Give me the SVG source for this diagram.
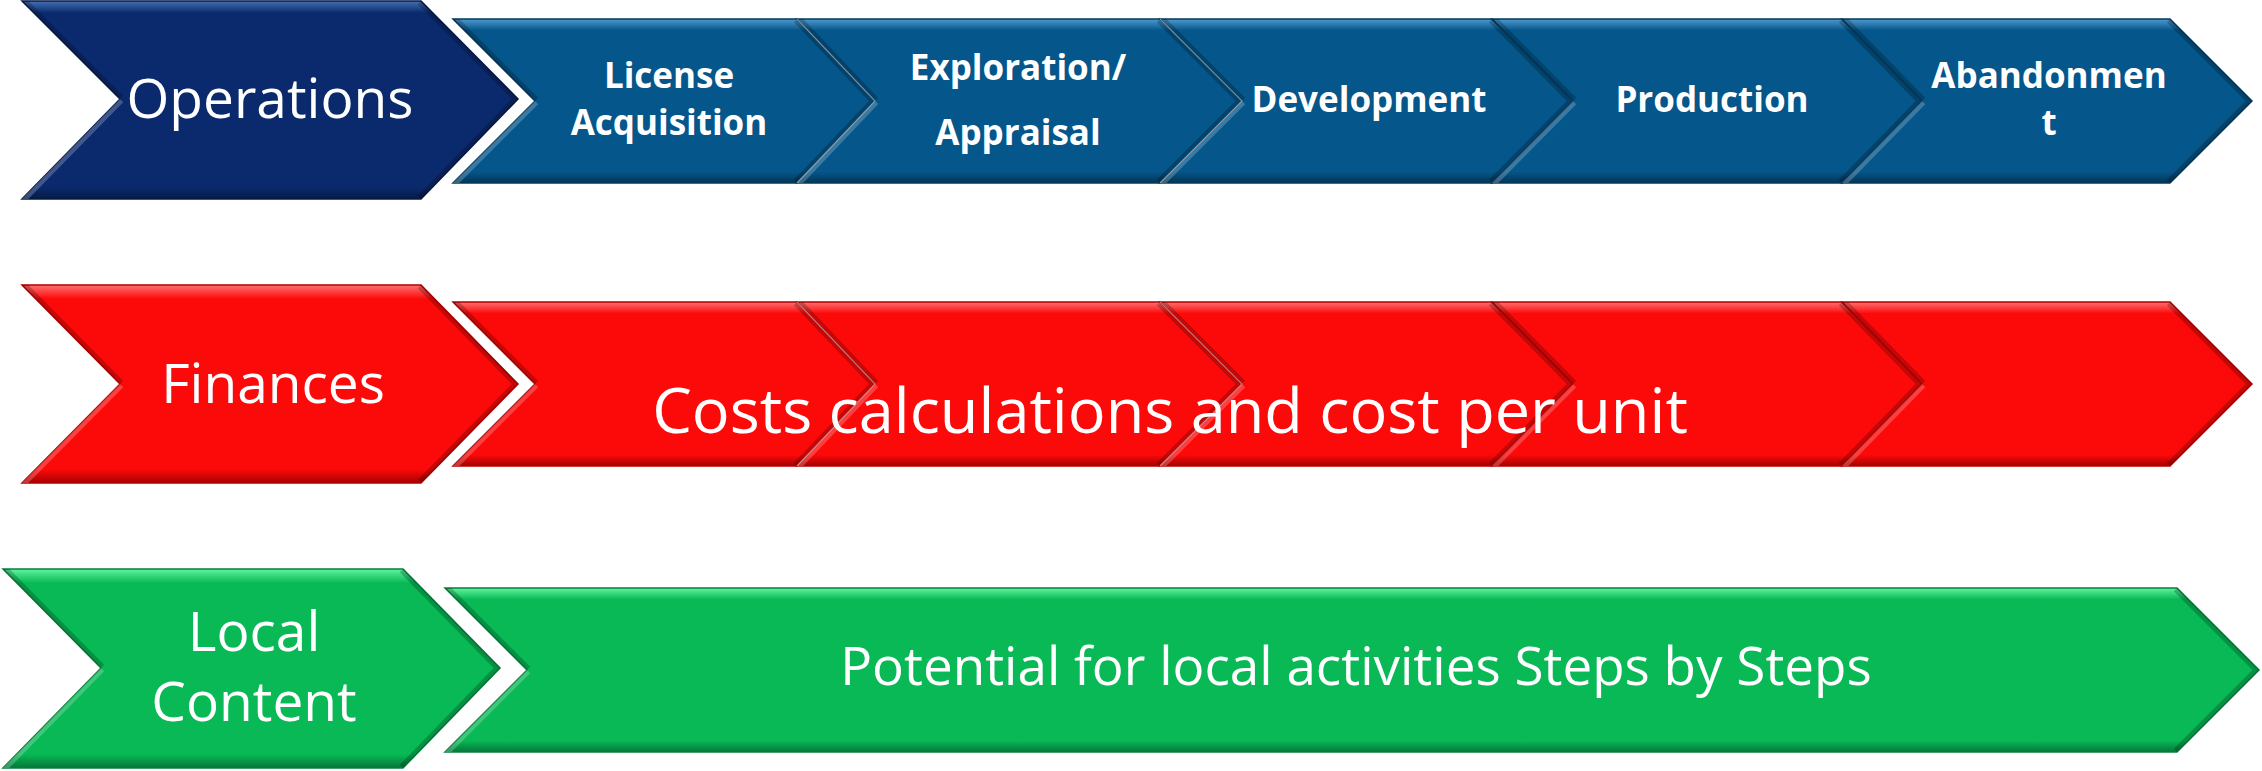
<svg xmlns="http://www.w3.org/2000/svg" xmlns:xlink="http://www.w3.org/1999/xlink" width="2262" height="771" viewBox="0 0 2262 771">
<style>
.lbl{fill:#ffffff;font-family:"Open Sans","Noto Sans","Liberation Sans",sans-serif;text-anchor:middle}
.big{font-size:55px}
.step{font-size:35px;font-weight:700}
.mid{font-size:63px}
.pot{font-size:53px}
.navy{fill:url(#g-navy);stroke:#061a48;stroke-width:1.5}
.blue{fill:url(#g-blue);stroke:#033a5e;stroke-width:1.5}
.red{fill:url(#g-red);stroke:#b40000;stroke-width:1.5}
.green{fill:url(#g-green);stroke:#06803d;stroke-width:1.5}
.hi{fill:none;stroke:#ffffff;stroke-opacity:0.22;stroke-width:9}
.sh{fill:none;stroke:#000000;stroke-opacity:0.22;stroke-width:9}
.edge{fill:none;stroke:#ffffff;stroke-opacity:0.45;stroke-width:1.2}
</style>
<defs>
<linearGradient id="g-navy" x1="0" y1="0" x2="0" y2="1">
<stop offset="0" stop-color="#4670b5"/><stop offset="0.06" stop-color="#0b2a6d"/><stop offset="0.94" stop-color="#0b2a6d"/><stop offset="1" stop-color="#051a46"/>
</linearGradient>
<linearGradient id="g-blue" x1="0" y1="0" x2="0" y2="1">
<stop offset="0" stop-color="#4f9ad0"/><stop offset="0.07" stop-color="#05568a"/><stop offset="0.93" stop-color="#05568a"/><stop offset="1" stop-color="#023555"/>
</linearGradient>
<linearGradient id="g-red" x1="0" y1="0" x2="0" y2="1">
<stop offset="0" stop-color="#ff7070"/><stop offset="0.07" stop-color="#fc0a0a"/><stop offset="0.93" stop-color="#fc0a0a"/><stop offset="1" stop-color="#a80000"/>
</linearGradient>
<linearGradient id="g-green" x1="0" y1="0" x2="0" y2="1">
<stop offset="0" stop-color="#5ff5a0"/><stop offset="0.07" stop-color="#08b955"/><stop offset="0.93" stop-color="#08b955"/><stop offset="1" stop-color="#05773a"/>
</linearGradient>

<polygon id="p-ops" points="22,1 421,1 518,99 421,199 22,199 120,99"/>
<polygon id="p-b1" points="453,19 797,19 875,101 797,183 453,183 535,101"/>
<polygon id="p-b2" points="797,19 1160,19 1242,101 1160,183 797,183 875,101"/>
<polygon id="p-b3" points="1160,19 1492,19 1573,101 1492,183 1160,183 1242,101"/>
<polygon id="p-b4" points="1492,19 1842,19 1922,101 1842,183 1492,183 1573,101"/>
<polygon id="p-b5" points="1842,19 2170,19 2252,101 2170,183 1842,183 1922,101"/>

<polygon id="p-fin" points="22,285 421,285 518,384 421,483 22,483 120,384"/>
<polygon id="p-r1" points="453,302 797,302 875,384 797,466 453,466 535,384"/>
<polygon id="p-r2" points="797,302 1160,302 1242,384 1160,466 797,466 875,384"/>
<polygon id="p-r3" points="1160,302 1492,302 1573,384 1492,466 1160,466 1242,384"/>
<polygon id="p-r4" points="1492,302 1842,302 1922,384 1842,466 1492,466 1573,384"/>
<polygon id="p-r5" points="1842,302 2170,302 2252,384 2170,466 1842,466 1922,384"/>

<polygon id="p-loc" points="3,569 403,569 500,668 403,768 3,768 101,668"/>
<polygon id="p-g1" points="445,588 2177,588 2259,670 2177,752 445,752 527,670"/>

<clipPath id="c-ops"><use xlink:href="#p-ops"/></clipPath>
<clipPath id="c-b1"><use xlink:href="#p-b1"/></clipPath>
<clipPath id="c-b2"><use xlink:href="#p-b2"/></clipPath>
<clipPath id="c-b3"><use xlink:href="#p-b3"/></clipPath>
<clipPath id="c-b4"><use xlink:href="#p-b4"/></clipPath>
<clipPath id="c-b5"><use xlink:href="#p-b5"/></clipPath>
<clipPath id="c-fin"><use xlink:href="#p-fin"/></clipPath>
<clipPath id="c-r1"><use xlink:href="#p-r1"/></clipPath>
<clipPath id="c-r2"><use xlink:href="#p-r2"/></clipPath>
<clipPath id="c-r3"><use xlink:href="#p-r3"/></clipPath>
<clipPath id="c-r4"><use xlink:href="#p-r4"/></clipPath>
<clipPath id="c-r5"><use xlink:href="#p-r5"/></clipPath>
<clipPath id="c-loc"><use xlink:href="#p-loc"/></clipPath>
<clipPath id="c-g1"><use xlink:href="#p-g1"/></clipPath>
</defs>

<rect x="0" y="0" width="2262" height="771" fill="#ffffff"/>

<!-- Row 1: Operations -->
<g id="node-operations">
<use xlink:href="#p-ops" class="navy"/>
<g clip-path="url(#c-ops)">
<polyline class="sh" points="22,1 120,99"/><polyline class="hi" points="120,99 22,199"/>
<polyline class="sh" points="421,1 518,99 421,199"/>
</g>
<text class="lbl big" x="270" y="118">Operations</text>
</g>

<g id="node-license">
<use xlink:href="#p-b1" class="blue"/>
<g clip-path="url(#c-b1)">
<polyline class="sh" points="453,19 535,101"/><polyline class="hi" points="535,101 453,183"/>
<polyline class="sh" points="797,19 875,101 797,183"/>
</g>
<text class="lbl step" x="669" y="88">License</text>
<text class="lbl step" x="669" y="135">Acquisition</text>
</g>

<g id="node-exploration">
<use xlink:href="#p-b2" class="blue"/>
<g clip-path="url(#c-b2)">
<polyline class="sh" points="797,19 875,101"/><polyline class="hi" points="875,101 797,183"/>
<polyline class="sh" points="1160,19 1242,101 1160,183"/>
</g>
<polyline class="edge" points="797,19 875,101 797,183"/>
<text class="lbl step" x="1018" y="80">Exploration/</text>
<text class="lbl step" x="1018" y="145">Appraisal</text>
</g>

<g id="node-development">
<use xlink:href="#p-b3" class="blue"/>
<g clip-path="url(#c-b3)">
<polyline class="sh" points="1160,19 1242,101"/><polyline class="hi" points="1242,101 1160,183"/>
<polyline class="sh" points="1492,19 1573,101 1492,183"/>
</g>
<polyline class="edge" points="1160,19 1242,101 1160,183"/>
<text class="lbl step" x="1369" y="112">Development</text>
</g>

<g id="node-production">
<use xlink:href="#p-b4" class="blue"/>
<g clip-path="url(#c-b4)">
<polyline class="sh" points="1492,19 1573,101"/><polyline class="hi" points="1573,101 1492,183"/>
<polyline class="sh" points="1842,19 1922,101 1842,183"/>
</g>
<text class="lbl step" x="1712" y="112">Production</text>
</g>

<g id="node-abandonment">
<use xlink:href="#p-b5" class="blue"/>
<g clip-path="url(#c-b5)">
<polyline class="sh" points="1842,19 1922,101"/><polyline class="hi" points="1922,101 1842,183"/>
<polyline class="sh" points="2170,19 2252,101 2170,183"/>
</g>
<text class="lbl step" x="2049" y="88">Abandonmen</text>
<text class="lbl step" x="2049" y="135">t</text>
</g>

<!-- Row 2: Finances -->
<g id="node-finances">
<use xlink:href="#p-fin" class="red"/>
<g clip-path="url(#c-fin)">
<polyline class="sh" points="22,285 120,384"/><polyline class="hi" points="120,384 22,483"/>
<polyline class="sh" points="421,285 518,384 421,483"/>
</g>
<text class="lbl big" x="273" y="403">Finances</text>
</g>

<g id="node-costs">
<use xlink:href="#p-r1" class="red"/>
<g clip-path="url(#c-r1)">
<polyline class="sh" points="453,302 535,384"/><polyline class="hi" points="535,384 453,466"/>
<polyline class="sh" points="797,302 875,384 797,466"/>
</g>
<use xlink:href="#p-r2" class="red"/>
<g clip-path="url(#c-r2)">
<polyline class="sh" points="797,302 875,384"/><polyline class="hi" points="875,384 797,466"/>
<polyline class="sh" points="1160,302 1242,384 1160,466"/>
</g>
<polyline class="edge" points="797,302 875,384 797,466"/>
<use xlink:href="#p-r3" class="red"/>
<g clip-path="url(#c-r3)">
<polyline class="sh" points="1160,302 1242,384"/><polyline class="hi" points="1242,384 1160,466"/>
<polyline class="sh" points="1492,302 1573,384 1492,466"/>
</g>
<polyline class="edge" points="1160,302 1242,384 1160,466"/>
<use xlink:href="#p-r4" class="red"/>
<g clip-path="url(#c-r4)">
<polyline class="sh" points="1492,302 1573,384"/><polyline class="hi" points="1573,384 1492,466"/>
<polyline class="sh" points="1842,302 1922,384 1842,466"/>
</g>
<use xlink:href="#p-r5" class="red"/>
<g clip-path="url(#c-r5)">
<polyline class="sh" points="1842,302 1922,384"/><polyline class="hi" points="1922,384 1842,466"/>
<polyline class="sh" points="2170,302 2252,384 2170,466"/>
</g>
<text class="lbl mid" x="1170" y="433">Costs calculations and cost per unit</text>
</g>

<!-- Row 3: Local Content -->
<g id="node-local-content">
<use xlink:href="#p-loc" class="green"/>
<g clip-path="url(#c-loc)">
<polyline class="sh" points="3,569 101,668"/><polyline class="hi" points="101,668 3,768"/>
<polyline class="sh" points="403,569 500,668 403,768"/>
</g>
<text class="lbl big" x="254" y="651">Local</text>
<text class="lbl big" x="254" y="721">Content</text>
</g>

<g id="node-potential">
<use xlink:href="#p-g1" class="green"/>
<g clip-path="url(#c-g1)">
<polyline class="sh" points="445,588 527,670"/><polyline class="hi" points="527,670 445,752"/>
<polyline class="sh" points="2177,588 2259,670 2177,752"/>
</g>
<text class="lbl pot" x="1356" y="685">Potential for local activities Steps by Steps</text>
</g>
</svg>
